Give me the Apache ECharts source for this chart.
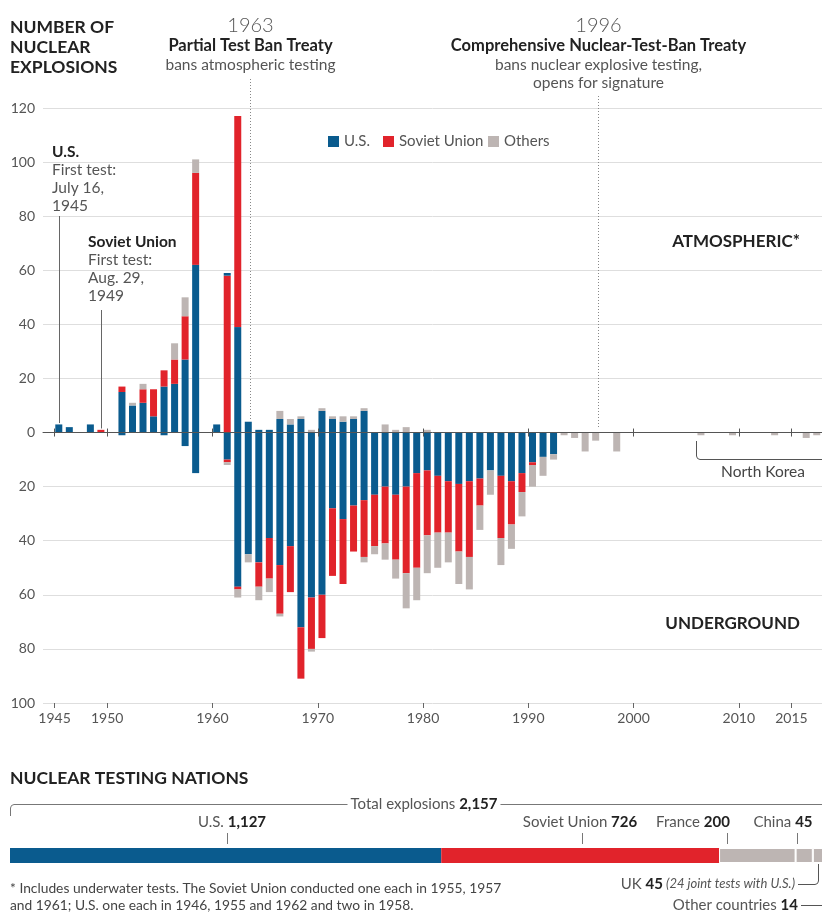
<!DOCTYPE html>
<html>
<head>
<meta charset="utf-8">
<script src="https://cdn.jsdelivr.net/npm/echarts@6/dist/echarts.min.js"></script>
<style>html,body{margin:0;padding:0;background:#fff}#c{width:822px;height:913px}</style>
</head>
<body>
<div id="c"></div>
<script>
// ---------- DATA ----------
const years = [
  1945,1946,1947,1948,1949,
  1950,1951,1952,1953,1954,1955,1956,1957,1958,1959,
  1960,1961,1962,1963,1964,1965,1966,1967,1968,1969,
  1970,1971,1972,1973,1974,1975,1976,1977,1978,1979,
  1980,1981,1982,1983,1984,1985,1986,1987,1988,1989,
  1990,1991,1992,1993,1994,1995,1996,1997,1998,1999,
  2000,2001,2002,2003,2004,2005,2006,2007,2008,2009,
  2010,2011,2012,2013,2014,2015,2016,2017
];
// Atmospheric (drawn upward)
const usAtm = [
  3,2,0,3,0,
  0,15,10,11,6,17,18,27,62,0,
  3,0,39,4,1,1,5,3,5,0,
  8,5,4,5,8,0,0,0,0,0,
  0,0,0,0,0,0,0,0,0,0,
  0,0,0,0,0,0,0,0,0,0,
  0,0,0,0,0,0,0,0,0,0,
  0,0,0,0,0,0,0,0
];
const suAtm = [
  0,0,0,0,1,
  0,2,0,5,10,6,9,16,34,0,
  0,58,78,0,0,0,0,0,0,0,
  0,0,0,0,0,0,0,0,0,0,
  0,0,0,0,0,0,0,0,0,0,
  0,0,0,0,0,0,0,0,0,0,
  0,0,0,0,0,0,0,0,0,0,
  0,0,0,0,0,0,0,0
];
// blue sliver drawn on top of the Soviet bar (1961)
const blueTopAtm = [
  0,0,0,0,0,
  0,0,0,0,0,0,0,0,0,0,
  0,1,0,0,0,0,0,0,0,0,
  0,0,0,0,0,0,0,0,0,0,
  0,0,0,0,0,0,0,0,0,0,
  0,0,0,0,0,0,0,0,0,0,
  0,0,0,0,0,0,0,0,0,0,
  0,0,0,0,0,0,0,0
];
const othAtm = [
  0,0,0,0,0,
  0,0,1,2,0,0,6,7,5,0,
  0,0,0,0,0,0,3,2,1,1,
  1,1,2,1,1,0,3,1,2,0,
  1,0,0,0,0,0,0,0,0,0,
  0,0,0,0,0,0,0,0,0,0,
  0,0,0,0,0,0,0,0,0,0,
  0,0,0,0,0,0,0,0
];
// Underground (drawn downward)
const usUg = [
  0,0,0,0,0,
  0,1,0,0,0,1,0,5,15,0,
  0,10,57,45,48,39,49,42,72,61,
  60,28,32,27,25,23,20,23,20,15,
  14,16,18,19,18,17,14,16,18,15,
  11,9,8,0,0,0,0,0,0,0,
  0,0,0,0,0,0,0,0,0,0,
  0,0,0,0,0,0,0,0
];
const suUg = [
  0,0,0,0,0,
  0,0,0,0,0,0,0,0,0,0,
  0,1,1,0,9,15,18,17,19,19,
  16,25,24,17,21,19,21,24,32,35,
  24,21,19,25,28,10,0,23,16,7,
  1,0,0,0,0,0,0,0,0,0,
  0,0,0,0,0,0,0,0,0,0,
  0,0,0,0,0,0,0,0
];
const othUg = [
  0,0,0,0,0,
  0,0,0,0,0,0,0,0,0,0,
  0,1,3,3,5,5,1,0,0,1,
  0,0,0,0,2,3,6,7,13,12,
  14,13,11,12,12,9,9,10,9,9,
  8,7,2,1,2,7,3,0,7,0,
  0,0,0,0,0,0,1,0,0,1,
  0,0,0,1,0,0,2,1
];
const tickYears = [1945,1950,1960,1970,1980,1990,2000,2010,2015];

// Totals by nation (bottom bar)
const nations = ['U.S.','Soviet Union','France','China','UK','Other countries'];
const nationTotals = [1127,726,200,45,45,14];
const grandTotal = 2157;
const visibleTotal = 2122;   // the strip is cropped by the right edge in the original

// ---------- STYLE ----------
const FF = 'Lato, "Noto Sans", sans-serif';
const C_US = '#0a5b8e', C_SU = '#e1232b', C_OT = '#bdb5b3';
const DARK = '#222', GREY = '#555';

const chart = echarts.init(document.getElementById('c'), null, {renderer: 'canvas'});

// one padding category (1944) so that the category band lines up with the year scale
const cats = ['1944'].concat(years.map(String));
function bar(name, arr, color, sign) {
  return {
    name, type: 'bar', stack: 'main', xAxisIndex: 0, yAxisIndex: 0,
    barWidth: 7, itemStyle: {color}, silent: true,
    data: [null].concat(arr.map(v => sign * v))
  };
}
const nationColors = [C_US, C_SU, C_OT, C_OT, C_OT, C_OT];
const nationSeries = nations.map((n, i) => ({
  name: n + ' total', type: 'bar', stack: 'tot', xAxisIndex: 4, yAxisIndex: 1,
  barWidth: 15, silent: true, clip: false,
  itemStyle: {color: nationColors[i], borderColor: '#fff', borderWidth: i >= 2 ? 1 : 0},
  data: [nationTotals[i]]
}));

const xVal = {type: 'value', min: 1943.9, max: 2017.9, gridIndex: 0, splitLine: {show: false}};
const legendBase = {top: 129, icon: 'rect', itemWidth: 11, itemHeight: 11, selectedMode: false,
  textStyle: {fontSize: 15, color: GREY, fontFamily: FF}};

chart.setOption({
  animation: false,
  textStyle: {fontFamily: FF},
  grid: [
    {left: 43, right: 0, top: 108, height: 595},
    {left: 10, right: 0, top: 848, height: 15}
  ],
  legend: [
    Object.assign({data: ['U.S.'], left: 323}, legendBase),
    Object.assign({data: ['Soviet Union'], left: 378}, legendBase),
    Object.assign({data: ['Others'], left: 483}, legendBase)
  ],
  xAxis: [
    {type: 'category', data: cats, gridIndex: 0, show: false, boundaryGap: true,
      axisLine: {onZero: false}},
    Object.assign({}, xVal, {
      position: 'bottom',
      axisLine: {show: false, onZero: false},
      axisTick: {show: true, customValues: tickYears, length: 5, lineStyle: {color: '#666'}},
      axisLabel: {customValues: tickYears, formatter: v => String(v), fontSize: 14, color: GREY, margin: 8, fontFamily: FF}
    }),
    Object.assign({}, xVal, {
      position: 'bottom', z: 5,
      axisLine: {show: true, onZero: true, onZeroAxisIndex: 0, lineStyle: {color: '#555', width: 1}},
      axisTick: {show: true, customValues: tickYears, length: 4, lineStyle: {color: '#555'}},
      axisLabel: {show: false}
    }),
    Object.assign({}, xVal, {
      position: 'top', z: 5,
      axisLine: {show: false, onZero: true, onZeroAxisIndex: 0},
      axisTick: {show: true, customValues: tickYears, length: 4, lineStyle: {color: '#555'}},
      axisLabel: {show: false}
    }),
    {type: 'value', gridIndex: 1, min: 0, max: visibleTotal, show: false}
  ],
  yAxis: [
    {
      type: 'value', gridIndex: 0, min: -100, max: 120, interval: 20,
      axisLine: {show: false}, axisTick: {show: false},
      splitLine: {lineStyle: {color: '#dedede', width: 1}},
      axisLabel: {formatter: v => String(Math.abs(v)), fontSize: 14, color: GREY, margin: 8, fontFamily: FF}
    },
    {type: 'category', gridIndex: 1, data: ['total'], show: false}
  ],
  series: [
    bar('U.S.', usAtm, C_US, 1),
    bar('Soviet Union', suAtm, C_SU, 1),
    bar('blue top', blueTopAtm, C_US, 1),
    bar('Others', othAtm, C_OT, 1),
    bar('U.S.', usUg, C_US, -1),
    bar('Soviet Union', suUg, C_SU, -1),
    bar('Others', othUg, C_OT, -1)
  ].concat(nationSeries)
});

// ---------- ANNOTATIONS ----------
const mctx = document.createElement('canvas').getContext('2d');
function tw(t, font) { mctx.font = font; return mctx.measureText(t).width; }
function f(size, weight, style) { return (style ? style + ' ' : '') + (weight || 'normal') + ' ' + size + 'px ' + FF; }
function T(x, y, text, font, fill, align) {
  align = align || 'left';
  return {type: 'text', x: x, y: y, z: 20, silent: true,
    style: {text: text, font: font, fill: fill, textAlign: align, textVerticalAlign: 'middle'}};
}
function runs(x, y, parts, align) {
  const total = parts.reduce((s, p) => s + tw(p[0], p[1]), 0);
  let cx = align === 'center' ? x - total / 2 : align === 'right' ? x - total : x;
  const left = cx;
  const els = [];
  parts.forEach(p => { els.push(T(cx, y, p[0], p[1], p[2], 'left')); cx += tw(p[0], p[1]); });
  return {els: els, left: left, right: left + total};
}
function L(x1, y1, x2, y2, color, dash) {
  const st = {stroke: color || '#555', lineWidth: 1};
  if (dash) st.lineDash = dash;
  return {type: 'line', z: 20, silent: true, shape: {x1, y1, x2, y2}, style: st};
}
function PL(points, color) {
  return {type: 'polyline', z: 20, silent: true, shape: {points: points}, style: {stroke: color || '#555', fill: null, lineWidth: 1}};
}
const px = v => Math.round(chart.convertToPixel({xAxisIndex: 1}, v)) + 0.5;
const py = v => chart.convertToPixel({yAxisIndex: 0}, v);

const els = [];
// Title
els.push(T(10, 27, 'NUMBER OF', f(17.5, 'bold'), DARK));
els.push(T(10, 47, 'NUCLEAR', f(17.5, 'bold'), DARK));
els.push(T(10, 67, 'EXPLOSIONS', f(17.5, 'bold'), DARK));

// Treaties
const x63 = px(1963.6), x96 = px(1996.65);
els.push(T(x63, 26, '1963', f(20, '300'), GREY, 'center'));
els.push(T(x63, 46, 'Partial Test Ban Treaty', f(16.5, 'bold'), DARK, 'center'));
els.push(T(x63, 65, 'bans atmospheric testing', f(15.5), GREY, 'center'));
els.push(L(x63, 79, x63, py(5), '#888', [1, 2]));
els.push(T(x96, 26, '1996', f(20, '300'), GREY, 'center'));
els.push(T(x96, 46, 'Comprehensive Nuclear-Test-Ban Treaty', f(16.5, 'bold'), DARK, 'center'));
els.push(T(x96, 65, 'bans nuclear explosive testing,', f(15.5), GREY, 'center'));
els.push(T(x96, 83, 'opens for signature', f(15.5), GREY, 'center'));
els.push(L(x96, 96, x96, py(2), '#888', [1, 2]));

// First tests
els.push(T(52, 152, 'U.S.', f(15.5, 'bold'), DARK));
els.push(T(52, 170, 'First test:', f(15.5), GREY));
els.push(T(52, 188, 'July 16,', f(15.5), GREY));
els.push(T(52, 206, '1945', f(15.5), GREY));
const xUS = px(1945.4);
els.push(L(xUS, 216, xUS, py(3.5), '#666'));
els.push(T(88, 242, 'Soviet Union', f(15.5, 'bold'), DARK));
els.push(T(88, 260, 'First test:', f(15.5), GREY));
els.push(T(88, 278, 'Aug. 29,', f(15.5), GREY));
els.push(T(88, 296, '1949', f(15.5), GREY));
const xSU = px(1949.4);
els.push(L(xSU, 310, xSU, py(1.5), '#666'));

els.push(T(800, 242, 'ATMOSPHERIC*', f(17, 'bold'), DARK, 'right'));
els.push(T(800, 624, 'UNDERGROUND', f(17, 'bold'), DARK, 'right'));

// North Korea bracket
const xNK = px(2005.9);
els.push(PL([[xNK, 441], [xNK, 456], [xNK + 1, 458.5], [xNK + 3.5, 459.5], [822, 459.5]], '#555'));
els.push(T(763, 472, 'North Korea', f(15.5), '#444', 'center'));

// Bottom section
els.push(T(10, 778, 'NUCLEAR TESTING NATIONS', f(17.5, 'bold'), DARK));
const tot = runs(424, 804, [['Total explosions ', f(15), GREY], ['2,157', f(15, 'bold'), DARK]], 'center');
tot.els.forEach(e => els.push(e));
els.push(PL([[10.5, 816], [10.5, 808], [11.5, 805.5], [14, 804.5], [tot.left - 3, 804.5]], '#777'));
els.push(L(tot.right + 3, 804.5, 822, 804.5, '#777'));

const labs = [
  [232, 'U.S. ', '1,127', 227.5],
  [580, 'Soviet Union ', '726', 582.5],
  [693, 'France ', '200', 727.5],
  [783, 'China ', '45', 797.5]
];
labs.forEach(l => {
  runs(l[0], 822, [[l[1], f(15), GREY], [l[2], f(15, 'bold'), DARK]], 'center').els.forEach(e => els.push(e));
  els.push(L(l[3], 833, l[3], 844, '#777'));
});

const uk = runs(795, 884, [['UK ', f(15), GREY], ['45', f(15, 'bold'), DARK], [' (24 joint tests with U.S.)', f(13, 'normal', 'italic'), GREY]], 'right');
uk.els.forEach(e => els.push(e));
els.push(PL([[798, 884.5], [815, 884.5], [817.5, 883.5], [818.5, 881], [818.5, 864]], '#555'));
const oth = runs(798, 905, [['Other countries ', f(15), GREY], ['14', f(15, 'bold'), DARK]], 'right');
oth.els.forEach(e => els.push(e));
els.push(L(801, 905.5, 822, 905.5, '#555'));

els.push(T(10, 889, '* Includes underwater tests. The Soviet Union conducted one each in 1955, 1957', f(13.8), '#444'));
els.push(T(10, 906, 'and 1961; U.S. one each in 1946, 1955 and 1962 and two in 1958.', f(13.8), '#444'));

chart.setOption({graphic: {elements: els}});
</script>
</body>
</html>
